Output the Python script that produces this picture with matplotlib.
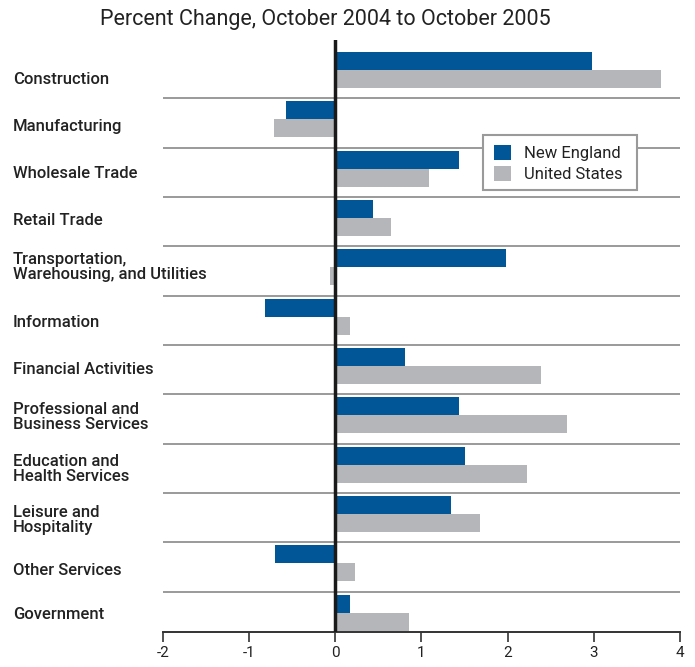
import numpy as np
import matplotlib.pyplot as plt
from matplotlib.patches import Patch, Rectangle

plt.rcParams['font.family'] = ['Roboto', 'Liberation Sans', 'DejaVu Sans']

categories = [
    'Construction', 'Manufacturing', 'Wholesale Trade', 'Retail Trade',
    'Transportation,\nWarehousing, and Utilities', 'Information',
    'Financial Activities', 'Professional and\nBusiness Services',
    'Education and\nHealth Services', 'Leisure and\nHospitality',
    'Other Services', 'Government',
]
new_england = [2.98, -0.57, 1.43, 0.44, 1.98, -0.82, 0.81, 1.43, 1.50, 1.34, -0.70, 0.17]
united_states = [3.78, -0.71, 1.09, 0.65, -0.06, 0.17, 2.39, 2.69, 2.23, 1.68, 0.23, 0.86]
xticks = [-2, -1, 0, 1, 2, 3, 4]

BLUE = '#005696'
GRAY = '#b5b6b9'
SEP = '#9a9a9a'

W, H = 695, 667
fig = plt.figure(figsize=(W / 100, H / 100), dpi=100)
ax = fig.add_axes([163 / W, (H - 632) / H, (680 - 163) / W, (632 - 40) / H])

n = len(categories)
y = np.arange(n)
bh = 0.365
ax.barh(y - bh / 2, new_england, height=bh, color=BLUE, zorder=3)
ax.barh(y + bh / 2, united_states, height=bh, color=GRAY, zorder=3)

# row separators
for i in range(n - 1):
    ax.axhline(i + 0.57, color=SEP, lw=1.4, zorder=1)

ax.axvline(0, color='#1a1a1a', lw=2.5, zorder=5)

ax.set_xlim(-2, 4)
ax.set_ylim(n - 1 + 0.39, -0.61)
ax.set_xticks(xticks)
ax.set_xticklabels([str(t) for t in xticks], fontsize=11, color='#222222')
ax.tick_params(axis='x', direction='out', length=7, width=1.2, color='#333333', pad=3)
ax.set_yticks([])
for s in ['top', 'right', 'left']:
    ax.spines[s].set_visible(False)
ax.spines['bottom'].set_color('#333333')
ax.spines['bottom'].set_linewidth(1.4)

# category labels; the original nudges some a little below the bar pair
nudge = [0.2, 0.14, 0.1, 0.04, 0.0, 0.12, 0.06, 0.04, 0.08, 0.12, 0.14, 0.04]
for i, lab in enumerate(categories):
    yy = ax.transData.transform((0, i + nudge[i]))[1] / fig.bbox.height
    fig.text(13 / W, yy, lab, ha='left', va='center', fontsize=12,
             fontweight='medium', color='#222222', linespacing=1.0)

fig.text(325 / W, 1 - 19 / H, 'Percent Change, October 2004 to October 2005',
         ha='center', va='center', fontsize=15.5, color='#222222')

# legend: frame drawn by hand so its size matches the original
box = Rectangle((483 / W, 1 - 190 / H), (637 - 483) / W, (190 - 135) / H,
                transform=fig.transFigure, facecolor='white', edgecolor='#9a9a9a',
                lw=1.5, zorder=8)
ax.add_artist(box)
box.set_clip_on(False)
handles = [Patch(facecolor=BLUE, label='New England'),
           Patch(facecolor=GRAY, label='United States')]
leg = fig.legend(handles=handles, loc='upper left',
                 bbox_to_anchor=(491 / W, 1 - 141.5 / H),
                 frameon=False, fontsize=12, handlelength=1.0,
                 handleheight=1.0, handletextpad=0.75, labelspacing=0.3,
                 borderpad=0.2, borderaxespad=0)
leg.set_zorder(10)
for t in leg.get_texts():
    t.set_color('#222222')

fig.savefig('out.png', dpi=100)
